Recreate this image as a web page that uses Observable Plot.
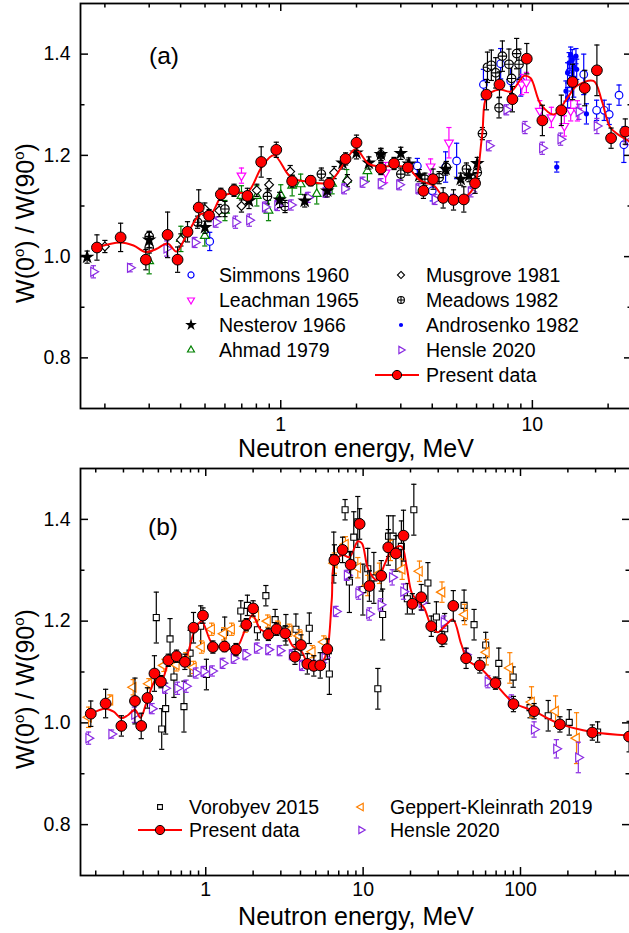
<!DOCTYPE html>
<html><head><meta charset="utf-8">
<script src="https://cdn.jsdelivr.net/npm/d3@7"></script>
<script src="https://cdn.jsdelivr.net/npm/@observablehq/plot@0.6"></script>
<style>
html,body{margin:0;padding:0;overflow:hidden;background:#fff;width:629px;height:933px;}
#wrap{position:relative;width:629px;height:933px;overflow:hidden;background:#fff;}
#wrap svg{position:absolute;left:0;}
</style></head><body><div id="wrap"></div>
<script>
// ---------- data: [energy MeV, W(0)/W(90), error] ----------
const PRESENT = [
 [0.186,1.018,0.025],[0.231,1.038,0.028],[0.291,0.994,0.02],[0.355,1.043,0.045],[0.389,0.994,0.025],
 [0.426,1.049,0.02],[0.472,1.097,0.035],[0.519,1.081,0.012],[0.578,1.123,0.012],[0.652,1.131,0.012],
 [0.737,1.120,0.015],[0.836,1.187,0.03],[0.96,1.211,0.015],[1.11,1.149,0.012],[1.315,1.150,0.01],
 [1.556,1.144,0.012],[1.81,1.193,0.012],[2.0,1.225,0.015],[2.5,1.174,0.012],[2.82,1.184,0.012],
 [3.2,1.176,0.015],[3.69,1.130,0.015],[4.03,1.153,0.02],[4.42,1.116,0.02],[4.86,1.112,0.02],
 [5.34,1.113,0.025],[5.92,1.145,0.02],[6.57,1.320,0.03],[7.4,1.340,0.025],[8.33,1.311,0.025],
 [9.5,1.391,0.03],[10.96,1.269,0.03],[13.03,1.289,0.03],[14.45,1.345,0.035],[16.15,1.333,0.035],
 [18.05,1.368,0.05],[20.55,1.234,0.02],[23.4,1.247,0.025],[27.1,1.190,0.02],[31.7,1.165,0.015],
 [37.4,1.230,0.03],[45.1,1.127,0.02],[55.1,1.113,0.015],[69.3,1.078,0.012],[90.2,1.037,0.015],
 [122,1.023,0.015],[178,0.997,0.015],[286,0.981,0.015],[490,0.973,0.03]
];
const PRESENT_FIT = [
 [0.186,1.018],[0.23,1.028],[0.26,1.022],[0.29,1.009],[0.32,1.015],[0.355,1.026],[0.385,1.010],
 [0.42,1.040],[0.48,1.084],[0.53,1.086],[0.58,1.118],[0.65,1.126],[0.74,1.128],[0.84,1.177],
 [0.94,1.200],[1.1,1.156],[1.3,1.148],[1.55,1.146],[1.78,1.183],[1.98,1.212],[2.24,1.183],
 [2.5,1.178],[2.82,1.179],[3.18,1.176],[3.6,1.150],[4.07,1.140],[4.46,1.117],[5.03,1.116],
 [5.52,1.121],[5.92,1.143],[6.32,1.242],[6.6,1.317],[7.41,1.330],[8.2,1.326],[9.27,1.357],
 [9.83,1.353],[10.8,1.301],[12.2,1.281],[13.8,1.314],[15.0,1.337],[17.5,1.347],[18.9,1.307],
 [20.4,1.255],[22.4,1.238],[24.4,1.226],[27.1,1.190],[29.8,1.178],[33,1.190],[37.2,1.203],
 [42,1.155],[46.4,1.123],[56.4,1.106],[68.6,1.078],[90,1.040],[122,1.023],[178,0.998],
 [286,0.982],[500,0.975]
];
const SIMMONS_1960 = [
 [0.522,1.030,0.018],[3.49,1.179,0.015],[4.0,1.130,0.02],[4.52,1.177,0.03],[5.0,1.189,0.035],
 [6.39,1.340,0.03],[7.48,1.381,0.03],[8.2,1.347,0.03],[8.99,1.347,0.03],[14.1,1.365,0.03],
 [14.6,1.345,0.03],[16.0,1.360,0.04],[18.0,1.289,0.02],[19.3,1.289,0.02],[20.2,1.281,0.02],
 [22.1,1.319,0.02],[23.1,1.221,0.035]
];
const LEACHMAN_1965 = [
 [0.698,1.160,0.015],[2.61,1.166,0.02],[3.94,1.178,0.015],[4.66,1.225,0.03],[9.07,1.340,0.02],
 [9.47,1.344,0.02],[10.7,1.288,0.02],[11.9,1.275,0.02],[13.4,1.258,0.02],[14.2,1.288,0.02],[15.1,1.288,0.02]
];
const NESTEROV_1966 = [
 [0.17,0.999,0.012],[0.30,1.033,0.015],[0.50,1.058,0.012],[0.748,1.110,0.015],[0.99,1.112,0.015],
 [1.245,1.110,0.012],[1.53,1.130,0.012],[1.76,1.185,0.012],[2.0,1.205,0.012],[2.24,1.185,0.012],
 [2.5,1.202,0.012],[3.0,1.204,0.012],[3.23,1.183,0.012],[3.55,1.160,0.012],[4.52,1.173,0.012],
 [5.19,1.153,0.012],[5.6,1.160,0.012],[6.04,1.184,0.012]
];
const AHMAD_1979 = [
 [0.30,0.991,0.025],[0.401,1.035,0.025],[0.499,1.041,0.02],[0.60,1.091,0.02],[0.698,1.120,0.02],
 [0.803,1.120,0.02],[0.894,1.091,0.02],[1.0,1.122,0.02],[1.11,1.140,0.02],[1.2,1.143,0.02],
 [1.39,1.124,0.02],[1.6,1.144,0.02],[1.83,1.152,0.02],[2.21,1.169,0.02]
];
const MUSGROVE_1981 = [
 [0.20,1.020,0.012],[0.401,1.033,0.012],[0.499,1.094,0.012],[0.569,1.091,0.012],[0.698,1.100,0.012],
 [0.803,1.131,0.012],[0.899,1.142,0.012],[1.09,1.168,0.012],[1.63,1.166,0.012],[1.84,1.150,0.012]
];
const MEADOWS_1982 = [
 [0.30,1.017,0.01],[0.30,1.040,0.01],[0.467,1.068,0.012],[0.60,1.094,0.015],[0.885,1.119,0.015],
 [1.04,1.099,0.012],[1.45,1.163,0.012],[2.5,1.201,0.012],[3.0,1.163,0.012],[3.74,1.153,0.012],
 [4.26,1.156,0.012],[4.55,1.176,0.012],[5.47,1.173,0.012],[6.04,1.166,0.012],[6.33,1.243,0.012],
 [6.63,1.374,0.03],[6.87,1.378,0.03],[7.15,1.363,0.03],[7.37,1.294,0.02],[7.6,1.396,0.03],
 [8.07,1.380,0.03],[8.27,1.352,0.03],[8.66,1.401,0.03],[8.85,1.380,0.03]
];
const ANDROSENKO_1982 = [
 [12.5,1.177,0.01],[13.6,1.327,0.02],[13.8,1.314,0.02],[13.8,1.363,0.02],[14.0,1.383,0.02],
 [14.2,1.399,0.015],[14.3,1.347,0.02],[14.4,1.389,0.02],[14.6,1.376,0.02],[14.9,1.396,0.015],
 [15.0,1.370,0.02],[16.4,1.282,0.02]
];
const HENSLE_2020 = [
 [0.18,0.970,0.012],[0.252,0.978,0.008],[0.352,1.016,0.015],[0.456,1.028,0.01],[0.553,1.068,0.01],
 [0.661,1.068,0.012],[0.75,1.072,0.012],[0.867,1.098,0.01],[0.97,1.101,0.01],[1.1,1.102,0.01],
 [1.285,1.117,0.01],[1.51,1.127,0.01],[1.79,1.134,0.01],[2.12,1.147,0.01],[2.5,1.144,0.01],
 [2.96,1.142,0.01],[3.53,1.134,0.01],[4.1,1.113,0.01],[4.85,1.113,0.01],[5.7,1.128,0.01],
 [6.73,1.219,0.01],[7.9,1.290,0.01],[9.35,1.255,0.012],[10.95,1.214,0.012],[12.95,1.232,0.012],
 [15.3,1.286,0.015],[18.05,1.258,0.015],[23.6,1.236,0.015],[32.6,1.198,0.012],[45.1,1.134,0.012],
 [62,1.081,0.012],[87.6,1.043,0.012],[122,0.987,0.015],[169,0.949,0.018],[233,0.932,0.03]
];
const VOROBYEV_2015 = [
 [0.485,1.207,0.05],[0.525,0.988,0.04],[0.556,1.028,0.05],[0.593,1.165,0.04],[0.628,1.090,0.04],
 [0.727,1.032,0.05],[0.795,1.137,0.045],[0.929,1.190,0.04],[1.01,1.095,0.03],[1.32,1.178,0.03],
 [1.67,1.220,0.02],[1.84,1.231,0.02],[2.13,1.183,0.02],[2.41,1.250,0.02],[2.76,1.203,0.02],
 [3.23,1.183,0.03],[3.74,1.184,0.03],[4.55,1.186,0.03],[6.1,1.096,0.04],[6.51,1.325,0.05],
 [7.68,1.419,0.02],[8.18,1.277,0.06],[8.72,1.365,0.05],[9.25,1.395,0.05],[9.96,1.262,0.05],
 [10.7,1.303,0.04],[11.7,1.285,0.05],[12.4,1.067,0.04],[13.3,1.213,0.05],[14.5,1.367,0.04],
 [15.5,1.367,0.04],[17.5,1.347,0.05],[19.1,1.244,0.03],[21.0,1.419,0.05],[25.8,1.275,0.04],
 [29.2,1.208,0.03],[33,1.185,0.03],[43.8,1.231,0.03],[50.7,1.193,0.03],[60.1,1.153,0.025],
 [72.8,1.117,0.03],[89.8,1.090,0.02],[115,1.030,0.02],[150,1.014,0.03],[204,1.001,0.025],[309,0.982,0.02]
];
const GEPPERT_KLEINRATH_2019 = [
 [0.18,1.011,0.02],[0.246,1.045,0.01],[0.346,1.070,0.015],[0.435,1.077,0.01],[0.542,1.113,0.012],
 [0.65,1.114,0.012],[0.746,1.126,0.012],[0.835,1.109,0.012],[0.94,1.149,0.012],[1.09,1.184,0.012],
 [1.30,1.175,0.012],[1.46,1.184,0.012],[1.78,1.190,0.012],[2.08,1.210,0.012],[2.47,1.200,0.012],
 [2.86,1.188,0.012],[3.39,1.182,0.012],[3.93,1.171,0.012],[4.75,1.140,0.012],[5.62,1.159,0.012],
 [6.56,1.314,0.02],[7.72,1.351,0.015],[9.25,1.305,0.02],[10.7,1.270,0.02],[12.7,1.294,0.02],
 [14.9,1.339,0.02],[17.7,1.302,0.02],[22.8,1.298,0.02],[31.7,1.257,0.02],[44.2,1.213,0.02],
 [60.7,1.139,0.025],[85.5,1.108,0.03],[117.5,1.041,0.03],[167,1.023,0.03],[227,0.970,0.05]
];
const X_MAJOR_A = [1, 10];
const X_MINOR_A = [0.2,0.3,0.4,0.5,0.6,0.7,0.8,0.9,2,3,4,5,6,7,8,9,20];
const X_MAJOR_B = [1, 10, 100];
const X_MINOR_B = [0.2,0.3,0.4,0.5,0.6,0.7,0.8,0.9,2,3,4,5,6,7,8,9,20,30,40,50,60,70,80,90,200,300,400];
const Y_MAJOR = [0.8, 1.0, 1.2, 1.4];
const Y_MINOR = [0.9, 1.1, 1.3];

// ---------- symbols ----------
const FONT = '"Liberation Sans", Arial, Helvetica, sans-serif';
const CAP = {draw(ctx, size) { const w = Math.sqrt(size / Math.PI); ctx.moveTo(-w, 0); ctx.lineTo(w, 0); }};
function TRI(apexDeg) {
  return {draw(ctx, size) {
    const r = Math.sqrt(size / Math.PI) * 1.25;
    for (let k = 0; k < 3; k++) {
      const a = (apexDeg + k * 120) * Math.PI / 180;
      const px = r * Math.cos(a), py = r * Math.sin(a);
      if (k) ctx.lineTo(px, py); else ctx.moveTo(px, py);
    }
    ctx.closePath();
  }};
}
const CPLUS = {draw(ctx, size) {
  const r = Math.sqrt(size / Math.PI);
  ctx.moveTo(r, 0); ctx.arc(0, 0, r, 0, 2 * Math.PI);
  ctx.moveTo(-r, 0); ctx.lineTo(r, 0); ctx.moveTo(0, -r); ctx.lineTo(0, r);
}};
const PURPLE = "#8a2be2", ORANGE = "#ff8000";
const STY = {
  simmons:   {symbol: d3.symbolCircle, r: 3.8, stroke: "#0000ff", fill: "white", sw: 1.2},
  leachman:  {symbol: TRI(90),  r: 4.0, stroke: "#ff00ff", fill: "white", sw: 1.2},
  nesterov:  {symbol: d3.symbolStar, r: 4.6, stroke: "none", fill: "#000", sw: 1, err: "#000"},
  ahmad:     {symbol: TRI(-90), r: 4.0, stroke: "#008000", fill: "white", sw: 1.2},
  musgrove:  {symbol: d3.symbolDiamond2, r: 4.0, stroke: "#000", fill: "white", sw: 1.1},
  meadows:   {symbol: CPLUS, r: 4.3, stroke: "#000", fill: "white", sw: 1.1},
  androsenko:{symbol: d3.symbolCircle, r: 2.6, stroke: "none", fill: "#0000ff", sw: 1, err: "#0000ff"},
  hensle:    {symbol: TRI(0),   r: 4.2, stroke: PURPLE, fill: "white", sw: 1.2},
  vorobyev:  {symbol: d3.symbolSquare, r: 3.4, stroke: "#000", fill: "white", sw: 1.1},
  geppert:   {symbol: TRI(180), r: 4.4, stroke: ORANGE, fill: "white", sw: 1.2},
  present:   {symbol: d3.symbolCircle, r: 5.4, stroke: "#000", fill: "#ff0000", sw: 1, err: "#000"}
};

function seriesMarks(data, st) {
  const c = st.err || st.stroke;
  return [
    Plot.ruleX(data, {x: d => d[0], y1: d => d[1] - d[2], y2: d => d[1] + d[2], stroke: c, strokeWidth: 1.2}),
    Plot.dot(data, {x: d => d[0], y: d => d[1] - d[2], symbol: CAP, r: 2.6, stroke: c, strokeWidth: 1.2}),
    Plot.dot(data, {x: d => d[0], y: d => d[1] + d[2], symbol: CAP, r: 2.6, stroke: c, strokeWidth: 1.2}),
    Plot.dot(data, {x: d => d[0], y: d => d[1], symbol: st.symbol, r: st.r, stroke: st.stroke, fill: st.fill, strokeWidth: st.sw})
  ];
}

function frameMarks(xMajor, xMinor, innerW, innerH, pad) {
  const tk = {stroke: "#000", strokeWidth: 1.5};
  return [
    Plot.tickX(xMajor, {x: d => d, insetTop: innerH - 8, ...tk}),
    Plot.tickX(xMajor, {x: d => d, insetBottom: innerH - 8, ...tk}),
    Plot.tickX(xMinor, {x: d => d, insetTop: innerH - 4.5, ...tk}),
    Plot.tickX(xMinor, {x: d => d, insetBottom: innerH - 4.5, ...tk}),
    Plot.tickY(Y_MAJOR, {y: d => d, insetRight: innerW - 8, ...tk}),
    Plot.tickY(Y_MAJOR, {y: d => d, insetLeft: innerW - 8, ...tk}),
    Plot.tickY(Y_MINOR, {y: d => d, insetRight: innerW - 4.5, ...tk}),
    Plot.tickY(Y_MINOR, {y: d => d, insetLeft: innerW - 4.5, ...tk}),
    Plot.axisX({ticks: xMajor, tickSize: 0, tickPadding: pad, tickFormat: d => String(d), label: null}),
    Plot.axisY({ticks: Y_MAJOR, tickSize: 0, tickPadding: 10, tickFormat: d => d.toFixed(1), label: null}),
    Plot.frame({stroke: "#000", strokeWidth: 1.8})
  ];
}

function yLabel(svg, cy) {
  const t = d3.select(svg).append("text")
    .attr("transform", `translate(33.5,${cy}) rotate(-90)`)
    .attr("text-anchor", "middle").attr("font-size", 25).attr("font-family", FONT).attr("fill", "#000");
  t.append("tspan").text("W(0");
  t.append("tspan").attr("dy", -10).attr("font-size", 15).text("o");
  t.append("tspan").attr("dy", 10).text(") / W(90");
  t.append("tspan").attr("dy", -10).attr("font-size", 15).text("o");
  t.append("tspan").attr("dy", 10).text(")");
}
function addText(svg, x, y, s, size, anchor) {
  d3.select(svg).append("text").attr("x", x).attr("y", y).attr("font-size", size)
    .attr("font-family", FONT).attr("text-anchor", anchor || "start").attr("fill", "#000").text(s);
}
function legendItem(svg, sx, tx, cy, st, label) {
  const g = d3.select(svg).append("g");
  if (st === STY.present) {
    g.append("line").attr("x1", sx - 22).attr("x2", sx + 22).attr("y1", cy).attr("y2", cy)
      .attr("stroke", "#ff0000").attr("stroke-width", 2);
    g.append("circle").attr("cx", sx).attr("cy", cy).attr("r", 4.6).attr("fill", "#ff0000")
      .attr("stroke", "#000").attr("stroke-width", 1);
  } else {
    const r = st.r * 0.8;
    g.append("path").attr("transform", `translate(${sx},${cy})`)
      .attr("d", d3.symbol(st.symbol, r * r * Math.PI)())
      .attr("fill", st.fill).attr("stroke", st.stroke).attr("stroke-width", st.sw);
  }
  addText(svg, tx, cy + 7, label, 19.5);
}

const wrap = document.getElementById("wrap");
const baseStyle = {fontFamily: FONT, fontSize: "19.5px", color: "#000", background: "white", maxWidth: "none", overflow: "hidden"};

// ---------- panel (a) ----------
const A = {w: 632, h: 462, ml: 80, mr: 0, mt: 3, mb: 54};
const inA = d => d[0] <= 25;
const plotA = Plot.plot({
  width: A.w, height: A.h, marginLeft: A.ml, marginRight: A.mr, marginTop: A.mt, marginBottom: A.mb,
  style: baseStyle,
  x: {type: "log", domain: [0.16, 25]},
  y: {domain: [0.7, 1.5]},
  marks: [
    ...seriesMarks(SIMMONS_1960, STY.simmons),
    ...seriesMarks(LEACHMAN_1965, STY.leachman),
    ...seriesMarks(AHMAD_1979, STY.ahmad),
    ...seriesMarks(MUSGROVE_1981, STY.musgrove),
    ...seriesMarks(MEADOWS_1982, STY.meadows),
    ...seriesMarks(HENSLE_2020.filter(inA), STY.hensle),
    ...seriesMarks(NESTEROV_1966, STY.nesterov),
    ...seriesMarks(ANDROSENKO_1982, STY.androsenko),
    Plot.line(PRESENT_FIT.filter(d => d[0] <= 28), {x: d => d[0], y: d => d[1], stroke: "#ff0000", strokeWidth: 2, curve: "catmull-rom", clip: true}),
    ...seriesMarks(PRESENT.filter(inA), STY.present),
    ...frameMarks(X_MAJOR_A, X_MINOR_A, A.w - A.ml - A.mr, A.h - A.mt - A.mb, 9)
  ]
});
plotA.style.top = "0px";
wrap.appendChild(plotA);
yLabel(plotA, 223);
addText(plotA, 356, 457, "Neutron energy, MeV", 25, "middle");
addText(plotA, 149, 64, "(a)", 24.5);
legendItem(plotA, 191, 219, 275, STY.simmons, "Simmons 1960");
legendItem(plotA, 191, 219, 300, STY.leachman, "Leachman 1965");
legendItem(plotA, 191, 219, 325, STY.nesterov, "Nesterov 1966");
legendItem(plotA, 191, 219, 350, STY.ahmad, "Ahmad 1979");
legendItem(plotA, 401, 426, 275, STY.musgrove, "Musgrove 1981");
legendItem(plotA, 401, 426, 300, STY.meadows, "Meadows 1982");
legendItem(plotA, 401, 426, 325, STY.androsenko, "Androsenko 1982");
legendItem(plotA, 401, 426, 350, STY.hensle, "Hensle 2020");
legendItem(plotA, 397, 426, 375, STY.present, "Present data");

// ---------- panel (b) ----------
const B = {w: 630, h: 468, ml: 80, mr: 0, mt: 3, mb: 58, top: 465};
const plotB = Plot.plot({
  width: B.w, height: B.h, marginLeft: B.ml, marginRight: B.mr, marginTop: B.mt, marginBottom: B.mb,
  style: baseStyle,
  x: {type: "log", domain: [0.16, 500]},
  y: {domain: [0.7, 1.5]},
  marks: [
    ...seriesMarks(VOROBYEV_2015, STY.vorobyev),
    ...seriesMarks(GEPPERT_KLEINRATH_2019, STY.geppert),
    ...seriesMarks(HENSLE_2020, STY.hensle),
    Plot.line(PRESENT_FIT, {x: d => d[0], y: d => d[1], stroke: "#ff0000", strokeWidth: 2, curve: "catmull-rom", clip: true}),
    ...seriesMarks(PRESENT, STY.present),
    ...frameMarks(X_MAJOR_B, X_MINOR_B, B.w - B.ml - B.mr, B.h - B.mt - B.mb, 7)
  ]
});
plotB.style.top = B.top + "px";
wrap.appendChild(plotB);
yLabel(plotB, 224);
addText(plotB, 356, 460, "Neutron energy, MeV", 25, "middle");
addText(plotB, 148, 70, "(b)", 24.5);
legendItem(plotB, 160, 189, 342, STY.vorobyev, "Vorobyev 2015");
legendItem(plotB, 160, 189, 365, STY.present, "Present data");
legendItem(plotB, 361, 390, 342, STY.geppert, "Geppert-Kleinrath 2019");
legendItem(plotB, 361, 390, 365, STY.hensle, "Hensle 2020");
</script></body></html>
